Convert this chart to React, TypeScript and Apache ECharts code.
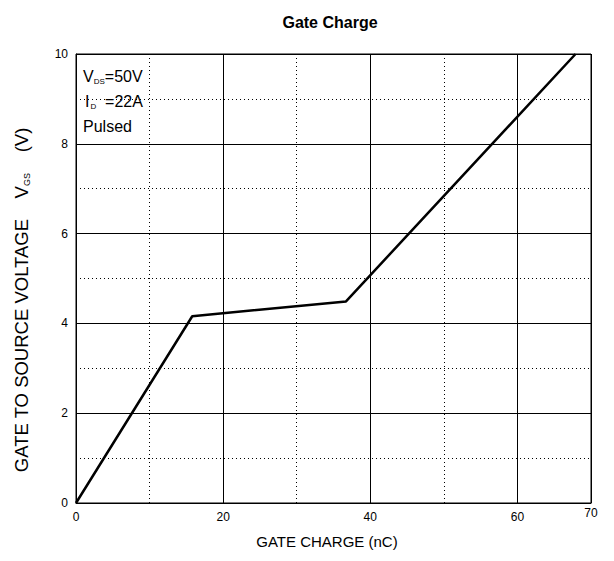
import React, { useEffect, useRef } from "react";
import * as echarts from "echarts";

const chargeNC = [0, 15.8, 36.7, 67.9];
const voltageV = [0, 4.16, 4.49, 10];
const xLabels = [0, 20, 40, 60, 70];
const yLabels = [0, 2, 4, 6, 8, 10];
const titleText = "Gate Charge";
const xTitle = "GATE CHARGE (nC)";

const FONT = "Liberation Sans, Arial, sans-serif";

export default function App() {
  const ref = useRef<HTMLDivElement>(null);
  useEffect(() => {
    if (!ref.current) return;
    const chart = echarts.init(ref.current, undefined, { renderer: "svg" });
    const data = chargeNC.map((x, i) => [x, voltageV[i]]);
    chart.setOption({
      animation: false,
      backgroundColor: "#fff",
      textStyle: { fontFamily: FONT },
      title: {
        text: titleText,
        left: 325,
        top: 9,
        textAlign: "center",
        textStyle: { fontSize: 16, fontWeight: "bold", color: "#000", fontFamily: FONT },
      },
      grid: {
        left: 76,
        right: 23,
        top: 54,
        bottom: 58,
        show: true,
        borderColor: "#000",
        borderWidth: 1,
        containLabel: false,
      },
      xAxis: [
        {
          type: "value",
          min: 0,
          max: 70,
          interval: 20,
          axisLine: { show: true, lineStyle: { color: "#000", width: 1 } },
          axisTick: { show: false },
          axisLabel: {
            color: "#000",
            fontSize: 12,
            margin: 8,
            formatter: (v: number) =>
              xLabels.includes(v) ? (v === 70 ? "{r|" + v + "}" : String(v)) : "",
            rich: { r: { fontSize: 12, lineHeight: 4, color: "#000", fontFamily: FONT } },
          },
          splitLine: { show: true, lineStyle: { color: "#000", width: 1, type: "solid" } },
          z: 3,
        },
        {
          type: "value",
          min: 0,
          max: 70,
          interval: 10,
          position: "bottom",
          axisLine: { show: false },
          axisTick: { show: false },
          axisLabel: { show: false },
          splitLine: { show: true, lineStyle: { color: "#000", width: 1, type: [1, 3] } },
          z: 2,
        },
      ],
      yAxis: [
        {
          type: "value",
          min: 0,
          max: 10,
          interval: 2,
          axisLine: { show: true, lineStyle: { color: "#000", width: 1 } },
          axisTick: { show: false },
          axisLabel: {
            color: "#000",
            fontSize: 12,
            margin: 8,
            formatter: (v: number) => (yLabels.includes(v) ? String(v) : ""),
          },
          splitLine: { show: true, lineStyle: { color: "#000", width: 1, type: "solid" } },
          z: 3,
        },
        {
          type: "value",
          min: 0,
          max: 10,
          interval: 1,
          position: "left",
          axisLine: { show: false },
          axisTick: { show: false },
          axisLabel: { show: false },
          splitLine: { show: true, lineStyle: { color: "#000", width: 1, type: [1, 3] } },
          z: 2,
        },
      ],
      series: [
        {
          type: "line",
          xAxisIndex: 0,
          yAxisIndex: 0,
          data,
          showSymbol: false,
          symbol: "none",
          lineStyle: { color: "#000", width: 2.5 },
          z: 10,
        },
      ],
      graphic: [
        {
          type: "text",
          x: 327,
          y: 541,
          z: 20,
          style: {
            text: xTitle,
            align: "center",
            verticalAlign: "middle",
            fontSize: 15,
            fontFamily: FONT,
            fill: "#000",
          },
        },
        {
          type: "text",
          x: 83,
          y: 76,
          z: 20,
          style: {
            text: "{n|V}{s|DS}{n|=50V}",
            verticalAlign: "middle",
            fill: "#000",
            rich: {
              n: { fontSize: 16, fontFamily: FONT, fill: "#000" },
              s: { fontSize: 8, fontFamily: FONT, fill: "#000", padding: [11, 0, 0, 0] },
            },
          },
        },
        {
          type: "text",
          x: 85,
          y: 101,
          z: 20,
          style: {
            text: "{n|I}{s|D}{n|  =22A}",
            verticalAlign: "middle",
            fill: "#000",
            rich: {
              n: { fontSize: 16, fontFamily: FONT, fill: "#000" },
              s: { fontSize: 8, fontFamily: FONT, fill: "#000", padding: [11, 0, 0, 1] },
            },
          },
        },
        {
          type: "text",
          x: 83,
          y: 126,
          z: 20,
          style: {
            text: "Pulsed",
            verticalAlign: "middle",
            fontSize: 16,
            fontFamily: FONT,
            fill: "#000",
          },
        },
        {
          type: "text",
          x: 21,
          y: 300,
          rotation: Math.PI / 2,
          z: 20,
          style: {
            text: "{n|GATE TO SOURCE VOLTAGE    V}{s|GS}{n|    (V)}",
            align: "center",
            verticalAlign: "middle",
            fill: "#000",
            rich: {
              n: { fontSize: 18.5, fontFamily: FONT, fill: "#000" },
              s: { fontSize: 9, fontFamily: FONT, fill: "#000", padding: [12, 0, 0, 0] },
            },
          },
        },
      ],
    });
    return () => chart.dispose();
  }, []);
  return (
    <div
      ref={ref}
      style={{ position: "absolute", left: 0, top: 0, width: 614, height: 561 }}
    />
  );
}
